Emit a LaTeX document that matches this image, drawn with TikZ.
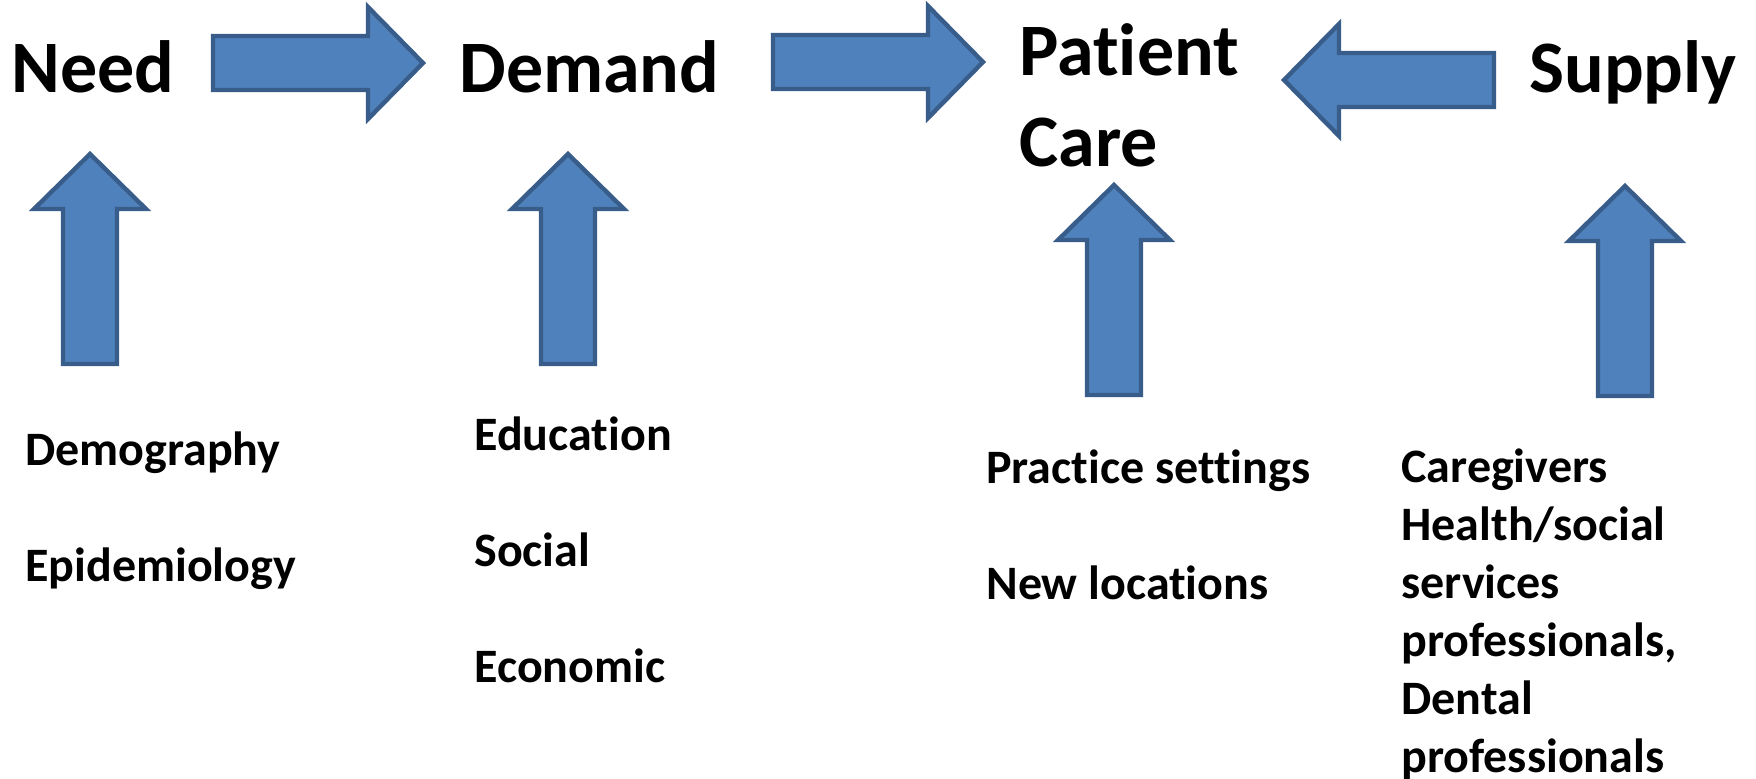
\documentclass[tikz,border=0pt]{standalone}
\usepackage{fontspec}
\setmainfont[Ligatures=NoCommon]{Carlito}
\definecolor{arrowfill}{HTML}{4F81BD}
\definecolor{arrowline}{HTML}{385D8A}
\tikzset{
  arrowshape/.style={fill=arrowfill, draw=arrowline, line width=2.2pt, line join=miter},
  fatarrow/.pic={\path[arrowshape] (0,-27) -- (155,-27) -- (155,-56) -- (210,0) -- (155,56) -- (155,27) -- (0,27) -- cycle;},
  mainlabel/.style={font=\fontsize{37}{45.5}\selectfont\bfseries, inner sep=0pt, anchor=base west, align=left},
  sublabel/.style={font=\fontsize{24}{29}\selectfont\bfseries, inner sep=0pt, anchor=base west, align=left},
}
\begin{document}
\begin{tikzpicture}[x=0.5pt, y=-0.5pt]
\useasboundingbox (0,0) rectangle (1756,778);
% main labels (anchor = baseline of the last line)
\node[mainlabel] (need) at (11,92) {Need};
\node[mainlabel] (demand) at (459,92) {Demand};
\node[mainlabel] (care) at (1019,166) {Patient\\Care};
\node[mainlabel] (supply) at (1529,92) {Supply};
% factor labels
\node[sublabel] (needf) at (25,581) {Demography\\[29pt]Epidemiology};
\node[sublabel] (demandf) at (474,682) {Education\\[29pt]Social\\[29pt]Economic};
\node[sublabel] (caref) at (986,599) {Practice settings\\[29pt]New locations};
\node[sublabel] (supplyf) at (1401,772) {Caregivers\\Health/social\\services\\professionals,\\Dental\\professionals};
% block arrows
\pic at (213,63) {fatarrow};
\pic at (773,62) {fatarrow};
\pic[rotate=180] at (1494,80) {fatarrow};
\pic[rotate=90] at (90,364) {fatarrow};
\pic[rotate=90] at (568,364) {fatarrow};
\pic[rotate=90] at (1114,395) {fatarrow};
\pic[rotate=90] at (1625,396) {fatarrow};
\end{tikzpicture}
\end{document}
